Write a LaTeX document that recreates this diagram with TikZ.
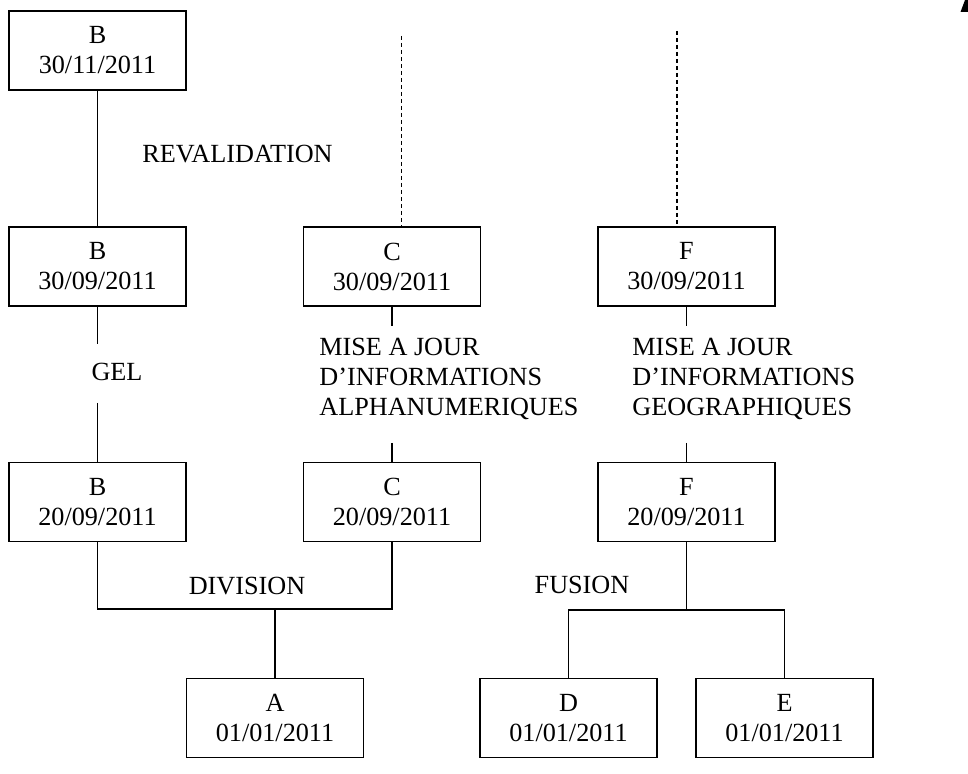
\documentclass[tikz,border=0pt]{standalone}
\usepackage{fontspec}
\setmainfont{Liberation Serif}
\usepackage{tikz}
\usetikzlibrary{positioning, calc}
\tikzset{lineage/.style={
    x=0.5pt, y=-0.5pt,
    version/.style={rectangle, draw=black, line width=0.8pt, minimum width=88.5pt, minimum height=39.5pt, align=center, inner sep=0pt, font=\fontsize{13.1}{15}\selectfont},
    op/.style={align=left, inner sep=0pt, font=\fontsize{13.1}{15}\selectfont},
    link/.style={draw=black, line width=0.8pt},
    future/.style={draw=black, line width=0.8pt, dash pattern=on 2pt off 1.5pt},
}}

\begin{document}
\begin{tikzpicture}[lineage]
    \useasboundingbox (0,0) rectangle (968,774);
    % versions
    \node[version] (b1) at (97.5,50.5) {B\\30/11/2011};
    \node[version] (b2) at (97.5,266.5) {B\\30/09/2011};
    \node[version] (b3) at (97.5,502) {B\\20/09/2011};
    \node[version] (c2) at (392,266.5) {C\\30/09/2011};
    \node[version] (c3) at (392,502) {C\\20/09/2011};
    \node[version] (f2) at (686.5,266.5) {F\\30/09/2011};
    \node[version] (f3) at (686.5,502) {F\\20/09/2011};
    \node[version] (a) at (275,718) {A\\01/01/2011};
    \node[version] (d) at (568.5,718) {D\\01/01/2011};
    \node[version] (e) at (784.5,718) {E\\01/01/2011};
    % operations
    \node[op] (reval) at (237.5,154) {REVALIDATION};
    \node[op] (gel) at (117,372) {GEL};
    \node[op, anchor=west] (majalpha) at (319,379) {MISE A JOUR\\D'INFORMATIONS\\ALPHANUMERIQUES};
    \node[op, anchor=west] (majgeo) at (632,379) {MISE A JOUR\\D'INFORMATIONS\\GEOGRAPHIQUES};
    \node[op] (div) at (247,586) {DIVISION};
    \node[op] (fus) at (582,585) {FUSION};
    % junctions and loose ends
    \coordinate (gelup) at (97.5,344);
    \coordinate (geldown) at (97.5,403);
    \coordinate (alphaup) at (392,326);
    \coordinate (alphadown) at (392,443);
    \coordinate (geoup) at (686.5,326);
    \coordinate (geodown) at (686.5,443);
    \coordinate (divj) at (275,609);
    \coordinate (fusj) at (686.5,610);
    \coordinate (ctop) at (401.5,36);
    \coordinate (ftop) at (677,31);
    % connectors
    \draw[link] (b1.south) -- (b2.north);
    \draw[link] (b2.south) -- (gelup);
    \draw[link] (geldown) -- (b3.north);
    \draw[link] (c2.south) -- (alphaup);
    \draw[link] (alphadown) -- (c3.north);
    \draw[link] (f2.south) -- (geoup);
    \draw[link] (geodown) -- (f3.north);
    \draw[link] (b3.south) |- (divj) -| (c3.south);
    \draw[link] (divj) -- (a.north);
    \draw[link] (f3.south) -- (fusj);
    \draw[link] (d.north) |- (fusj) -| (e.north);
    \draw[future] (ctop) -- (ctop |- c2.north);
    \draw[future] (ftop) -- (ftop |- f2.north);
    % tip in the corner
    \fill (960.5,12) -- (968,12) -- (968,0) -- (965,0) -- cycle;
\end{tikzpicture}
\end{document}
